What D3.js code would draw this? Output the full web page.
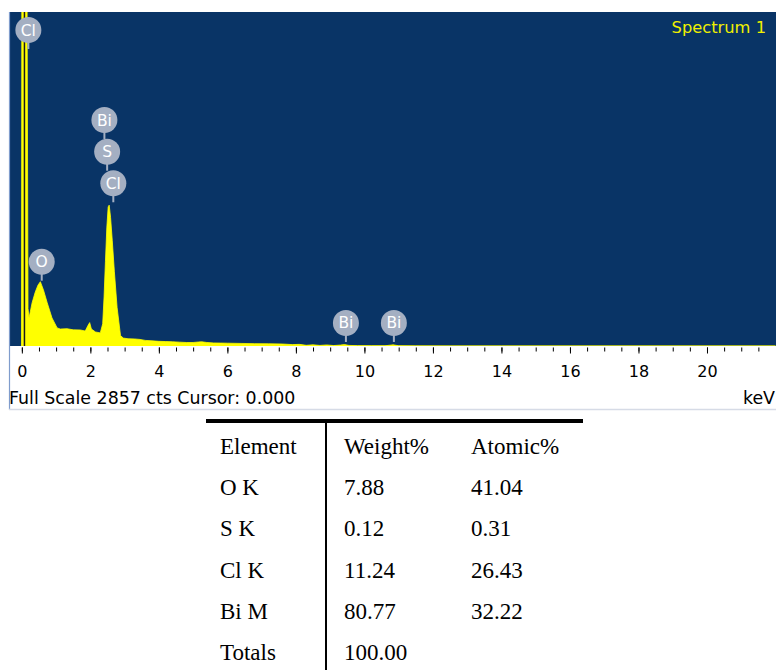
<!DOCTYPE html>
<html>
<head>
<meta charset="utf-8">
<script src="https://cdn.jsdelivr.net/npm/d3@7"></script>
<style>
  html, body { margin: 0; padding: 0; background: #ffffff; }
  svg { display: block; }
</style>
</head>
<body>
<svg id="chart" width="776" height="670"></svg>
<script>
// ---------------- DATA ----------------
const spectrumKeV = [-0.01,0.0,0.15,0.18,0.21,0.30,0.39,0.47,0.54,0.63,0.74,0.88,1.03,1.12,1.32,1.50,1.71,1.85,1.93,1.98,2.03,2.15,2.29,2.36,2.40,2.44,2.48,2.52,2.55,2.59,2.64,2.70,2.78,2.88,2.96,3.1,3.3,3.45,3.6,3.8,4.0,4.2,4.4,4.6,4.8,5.0,5.15,5.25,5.4,5.6,5.8,6.0,6.4,6.8,7.2,7.6,7.9,8.1,8.3,8.5,8.7,8.9,9.1,9.3,9.42,9.55,9.8,10.2,10.6,10.84,11.0,11.5,12.5,14,22];
const spectrumCounts = [0,3200,3200,320,240,370,460,520,550,480,370,240,155,145,148,138,137,128,175,200,145,120,112,190,420,720,1010,1190,1205,1100,900,640,330,90,68,62,60,56,48,44,40,38,36,33,30,30,34,36,30,26,25,24,22,20,19,17,12,14,6,10,5,9,4,8,12,5,3,2,2,10,2,1,0,0,0];

const markerElements = ["Cl","Bi","S","Cl","O","Bi","Bi"];
const markerKeV      = [0.19, 2.41, 2.49, 2.67, 0.58, 9.46, 10.86];
const markerCounts   = [2703, 1933, 1662, 1392, 721, 197, 197];

const majorTicks = [0,2,4,6,8,10,12,14,16,18,20];
const minorTicks = [0,0.5,1,1.5,2,2.5,3,3.5,4,4.5,5,5.5,6,6.5,7,7.5,8,8.5,9,9.5,10,10.5,11,11.5,12,12.5,13,13.5,14,14.5,15,15.5,16,16.5,17,17.5,18,18.5,19,19.5,20,20.5,21,21.5];

const fullScale = 2857;
const cursorKeV = 0.000;
const spectrumTitle = "Spectrum 1";
const unitLabel = "keV";

const tableHeader = ["Element","Weight%","Atomic%"];
const tableElements = ["O K","S K","Cl K","Bi M","Totals"];
const tableWeight = ["7.88","0.12","11.24","80.77","100.00"];
const tableAtomic = ["41.04","0.31","26.43","32.22",""];

// ---------------- LAYOUT ----------------
const svg = d3.select("#chart");
const plot = {left: 9, right: 776, top: 12, bottom: 346};

const x = d3.scaleLinear().domain([-0.375, 22]).range([plot.left, plot.right - 0.5]);
const y = d3.scaleLinear().domain([0, fullScale]).range([plot.bottom, plot.top]);

const uiFont = "'DejaVu Sans', sans-serif";
const blue = "#093466";
const yellow = "#ffff00";
const markerFill = "#a4afc2";

// background
svg.append("rect")
  .attr("x", plot.left).attr("y", plot.top)
  .attr("width", plot.right - plot.left).attr("height", plot.bottom - plot.top)
  .attr("fill", blue);

svg.append("clipPath").attr("id", "clip")
  .append("rect")
  .attr("x", plot.left).attr("y", plot.top)
  .attr("width", plot.right - plot.left).attr("height", plot.bottom - plot.top);

const g = svg.append("g").attr("clip-path", "url(#clip)");

const spectrum = spectrumKeV.map((k, i) => ({k, c: spectrumCounts[i]}));
const area = d3.area()
  .x(d => x(d.k))
  .y0(y(0))
  .y1(d => y(d.c));

g.append("path")
  .datum(spectrum)
  .attr("d", area)
  .attr("fill", yellow)
  .attr("stroke", yellow)
  .attr("stroke-width", 0.8);

// cursor line
g.append("line")
  .attr("x1", x(cursorKeV) + 2.6).attr("x2", x(cursorKeV) + 2.6)
  .attr("y1", plot.top).attr("y2", plot.bottom)
  .attr("stroke", "#1a1a1a").attr("stroke-width", 1.5);

// markers
const markers = markerElements.map((e, i) => ({e, k: markerKeV[i], c: markerCounts[i]}));
const r = 13;
const mg = g.append("g");
mg.selectAll("line.stem").data(markers).join("line")
  .attr("class", "stem")
  .attr("x1", d => x(d.k)).attr("x2", d => x(d.k))
  .attr("y1", d => y(d.c)).attr("y2", d => y(d.c) + r + 6)
  .attr("stroke", markerFill).attr("stroke-width", 2);
mg.selectAll("circle").data(markers).join("circle")
  .attr("cx", d => x(d.k)).attr("cy", d => y(d.c)).attr("r", r)
  .attr("fill", markerFill);
mg.selectAll("text").data(markers).join("text")
  .attr("x", d => x(d.k)).attr("y", d => y(d.c) + 5.5)
  .attr("text-anchor", "middle")
  .attr("font-family", uiFont).attr("font-size", 15.5)
  .attr("fill", "#ffffff")
  .text(d => d.e);

// title
svg.append("text")
  .attr("x", 766).attr("y", 33)
  .attr("text-anchor", "end")
  .attr("font-family", uiFont).attr("font-size", 16.3)
  .attr("fill", "#f0f000")
  .text(spectrumTitle);

// axis
const axisY = plot.bottom + 1.5;
svg.append("g")
  .attr("transform", `translate(0,${axisY})`)
  .call(d3.axisBottom(x).tickValues(minorTicks).tickSize(4).tickFormat(""))
  .call(s => s.select(".domain").remove())
  .call(s => s.selectAll(".tick line").attr("stroke", "#000"));

svg.append("g")
  .attr("transform", `translate(0,${axisY})`)
  .call(d3.axisBottom(x).tickValues(majorTicks).tickSize(6).tickPadding(12).tickFormat(d3.format("d")))
  .call(s => s.select(".domain").remove())
  .call(s => s.selectAll(".tick line").attr("stroke", "#000"))
  .call(s => s.selectAll(".tick text")
      .attr("font-family", uiFont).attr("font-size", 16).attr("fill", "#000"));

// status line
svg.append("text")
  .attr("x", 9).attr("y", 404)
  .attr("font-family", uiFont).attr("font-size", 17.4)
  .attr("fill", "#000")
  .text(`Full Scale ${fullScale} cts Cursor: ${cursorKeV.toFixed(3)}`);
svg.append("text")
  .attr("x", 775).attr("y", 404)
  .attr("text-anchor", "end")
  .attr("font-family", uiFont).attr("font-size", 17.4)
  .attr("fill", "#000")
  .text(unitLabel);

// frame
svg.append("line")
  .attr("x1", 9.5).attr("x2", 9.5).attr("y1", plot.top).attr("y2", 410)
  .attr("stroke", "#7f9ccc").attr("stroke-width", 1.2);
svg.append("line")
  .attr("x1", 9).attr("x2", 776).attr("y1", 409.5).attr("y2", 409.5)
  .attr("stroke", "#d6dbe6").attr("stroke-width", 1.5);

// ---------------- TABLE ----------------
const serif = "'Liberation Serif', 'Times New Roman', serif";
const colX = [220, 344, 471];
const rowY0 = 454, rowStep = 41.2;
const t = svg.append("g");
t.append("line")
  .attr("x1", 206).attr("x2", 583).attr("y1", 421).attr("y2", 421)
  .attr("stroke", "#000").attr("stroke-width", 4);
t.append("line")
  .attr("x1", 326).attr("x2", 326).attr("y1", 421).attr("y2", 670)
  .attr("stroke", "#000").attr("stroke-width", 2);

const rows = [tableHeader].concat(tableElements.map((e, i) => [e, tableWeight[i], tableAtomic[i]]));
rows.forEach((row, ri) => {
  row.forEach((cell, ci) => {
    t.append("text")
      .attr("x", colX[ci]).attr("y", rowY0 + ri * rowStep)
      .attr("font-family", serif).attr("font-size", 23)
      .attr("fill", "#000")
      .text(cell);
  });
});
</script>
</body>
</html>
